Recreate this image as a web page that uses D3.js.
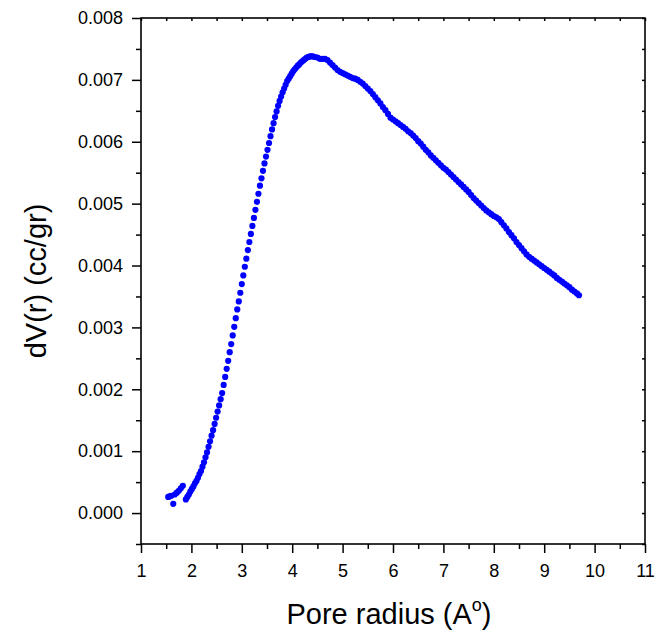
<!DOCTYPE html>
<html>
<head>
<meta charset="utf-8">
<script src="https://cdn.jsdelivr.net/npm/d3@7"></script>
<style>
  body { margin: 0; background: #fff; }
  svg { display: block; }
  text { font-family: "Liberation Sans", Arial, sans-serif; fill: #000; }
</style>
</head>
<body>
<svg id="chart" width="658" height="636"></svg>
<script>
// Small low-r cluster (r in Å, dV in cc/gr)
const clusterR = [1.54, 1.57, 1.60, 1.64, 1.67, 1.71, 1.75, 1.79, 1.83];
const clusterV = [0.00026, 0.00027, 0.00028, 0.00015, 0.00030, 0.00033, 0.00036, 0.00040, 0.00044];

// Main curve: rising part
const riseR = [1.89,1.92,1.95,1.98,2.01,2.04,2.07,2.10,2.13,2.16,2.19,2.22,2.25,2.28,2.31,2.34,2.37,2.40,2.43,2.46,2.49,2.52,2.55,2.58,2.61,2.64,2.67,2.70,2.73,2.76,2.79,2.82,2.85,2.88,2.91,2.94,2.97,3.00,3.03,3.06,3.09,3.12,3.15,3.18,3.21,3.24,3.27,3.30,3.33,3.36,3.39,3.42,3.45,3.48,3.51,3.54,3.57,3.60,3.63,3.66,3.69,3.72,3.75,3.78,3.81,3.84,3.87,3.90,3.93,3.96,3.99,4.02,4.05,4.08,4.11,4.14,4.17,4.20,4.23,4.26,4.29,4.32,4.35,4.38,4.41];
const riseV = [0.00022,0.00026,0.00030,0.00035,0.00039,0.00043,0.00048,0.00052,0.00057,0.00063,0.00068,0.00075,0.00082,0.00090,0.00098,0.00107,0.00116,0.00125,0.00134,0.00144,0.00154,0.00164,0.00174,0.00184,0.00194,0.00207,0.00220,0.00233,0.00246,0.00260,0.00273,0.00287,0.00301,0.00315,0.00329,0.00342,0.00356,0.00370,0.00384,0.00398,0.00411,0.00425,0.00438,0.00451,0.00464,0.00477,0.00490,0.00503,0.00516,0.00529,0.00541,0.00553,0.00565,0.00576,0.00587,0.00598,0.00609,0.00620,0.00630,0.00640,0.00649,0.00658,0.00666,0.00673,0.00680,0.00686,0.00692,0.00698,0.00702,0.00706,0.00710,0.00714,0.00717,0.00720,0.00723,0.00725,0.00728,0.00730,0.00732,0.00734,0.00736,0.00737,0.00738,0.00738,0.00738];

// Main curve: decaying tail
const tailR = [4.45,4.50,4.55,4.60,4.65,4.70,4.75,4.80,4.85,4.90,4.95,5.00,5.05,5.10,5.15,5.20,5.25,5.30,5.35,5.40,5.45,5.50,5.55,5.60,5.65,5.70,5.75,5.80,5.85,5.90,5.95,6.00,6.05,6.10,6.15,6.20,6.25,6.30,6.35,6.40,6.45,6.50,6.55,6.60,6.65,6.70,6.75,6.80,6.85,6.90,6.95,7.00,7.05,7.10,7.15,7.20,7.25,7.30,7.35,7.40,7.45,7.50,7.55,7.60,7.65,7.70,7.75,7.80,7.85,7.90,7.95,8.00,8.05,8.10,8.15,8.20,8.25,8.30,8.35,8.40,8.45,8.50,8.55,8.60,8.65,8.70,8.75,8.80,8.85,8.90,8.95,9.00,9.05,9.10,9.15,9.20,9.25,9.30,9.35,9.40,9.45,9.50,9.55,9.60,9.65,9.69];
const tailV = [0.00737,0.00736,0.00734,0.00734,0.00734,0.00732,0.00728,0.00724,0.00720,0.00716,0.00713,0.00711,0.00709,0.00707,0.00705,0.00703,0.00702,0.00700,0.00697,0.00694,0.00690,0.00686,0.00682,0.00677,0.00672,0.00667,0.00662,0.00656,0.00651,0.00645,0.00639,0.00636,0.00633,0.00630,0.00627,0.00624,0.00621,0.00617,0.00614,0.00610,0.00606,0.00601,0.00597,0.00592,0.00587,0.00583,0.00578,0.00574,0.00570,0.00566,0.00562,0.00558,0.00555,0.00551,0.00547,0.00543,0.00539,0.00535,0.00531,0.00527,0.00523,0.00519,0.00514,0.00509,0.00505,0.00501,0.00497,0.00493,0.00489,0.00486,0.00483,0.00480,0.00478,0.00475,0.00470,0.00465,0.00460,0.00454,0.00449,0.00444,0.00438,0.00433,0.00428,0.00423,0.00418,0.00414,0.00411,0.00408,0.00405,0.00402,0.00399,0.00396,0.00393,0.00390,0.00387,0.00384,0.00380,0.00377,0.00374,0.00371,0.00368,0.00365,0.00361,0.00358,0.00355,0.00352];

const xTicks = [1,2,3,4,5,6,7,8,9,10,11];
const yTicks = [0.000,0.001,0.002,0.003,0.004,0.005,0.006,0.007,0.008];
const xMinor = [1.5,2.5,3.5,4.5,5.5,6.5,7.5,8.5,9.5,10.5];
const yMinor = [-0.0005,0.0005,0.0015,0.0025,0.0035,0.0045,0.0055,0.0065,0.0075];

const xTitle = "Pore radius (A";
const yTitle = "dV(r) (cc/gr)";

const svg = d3.select("#chart");
const L = 141, R = 645, T = 18, B = 544;

const x = d3.scaleLinear().domain([1, 11]).range([L, R]);
const y = d3.scaleLinear().domain([-0.0005, 0.008]).range([B, T]);

// points
const pts = [];
clusterR.forEach((r, i) => pts.push([r, clusterV[i]]));
riseR.forEach((r, i) => pts.push([r, riseV[i]]));
tailR.forEach((r, i) => pts.push([r, tailV[i]]));

svg.append("g").selectAll("circle").data(pts).enter().append("circle")
  .attr("cx", d => x(d[0])).attr("cy", d => y(d[1])).attr("r", 3.1)
  .attr("fill", "#0000ff");

// axes
const fmt = d3.format(".3f");
const gBottom = svg.append("g").attr("transform", `translate(0,${B})`)
  .call(d3.axisBottom(x).tickValues(xTicks).tickSize(9).tickPadding(11).tickFormat(d3.format("d")));
gBottom.append("g").call(d3.axisBottom(x).tickValues(xMinor).tickSize(5).tickFormat(""));
const gLeft = svg.append("g").attr("transform", `translate(${L},0)`)
  .call(d3.axisLeft(y).tickValues(yTicks).tickSize(9).tickPadding(9).tickFormat(fmt));
gLeft.append("g").call(d3.axisLeft(y).tickValues(yMinor).tickSize(5).tickFormat(""));
const gTop = svg.append("g").attr("transform", `translate(0,${T})`)
  .call(d3.axisBottom(x).tickValues(xTicks.concat(xMinor)).tickSize(3).tickFormat(""));
const gRight = svg.append("g").attr("transform", `translate(${R},0)`)
  .call(d3.axisLeft(y).tickValues(yTicks.concat(yMinor)).tickSize(3).tickFormat(""));

[gBottom, gLeft, gTop, gRight].forEach(g => {
  g.selectAll("path.domain").remove();
  g.selectAll("line").attr("stroke", "#000").attr("stroke-width", 1.5);
  g.selectAll("text").style("font-family", "'Liberation Sans', Arial, sans-serif").style("font-size", "18px").attr("fill", "#000");
});
svg.append("rect").attr("x", L).attr("y", T).attr("width", R - L).attr("height", B - T)
  .attr("fill", "none").attr("stroke", "#000").attr("stroke-width", 1.6);

// titles
const xt = svg.append("text").attr("x", 389).attr("y", 624)
  .attr("text-anchor", "middle").style("font-size", "29px");
xt.append("tspan").text(xTitle);
xt.append("tspan").attr("dy", -13).style("font-size", "18px").text("o");
xt.append("tspan").attr("dy", 13).text(")");

svg.append("text").attr("transform", `translate(46,${(T + B) / 2}) rotate(-90)`)
  .attr("text-anchor", "middle").style("font-size", "29px").text(yTitle);
</script>
</body>
</html>
